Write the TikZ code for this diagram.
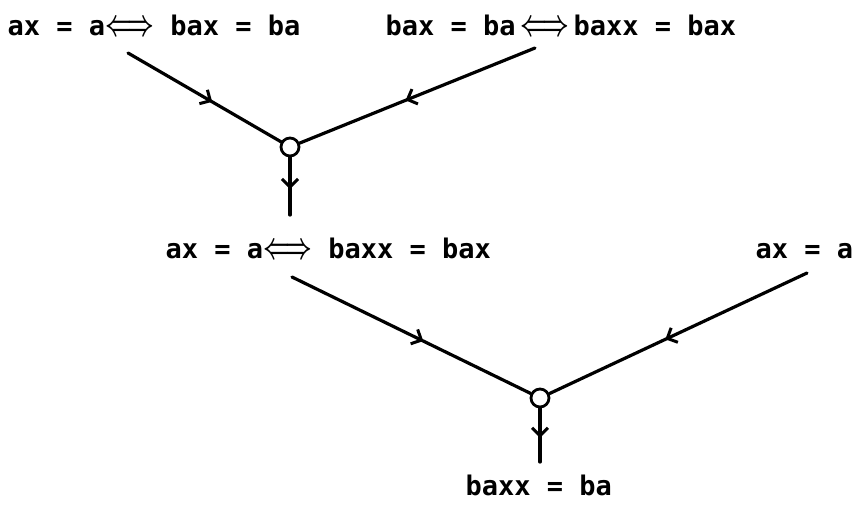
\documentclass[tikz,border=0pt]{standalone}
\usepackage{fix-cm}
\usepackage{graphicx}
\usepackage{fontspec}
\setmainfont{DejaVu Sans Mono}
\usetikzlibrary{arrows.meta,decorations.markings}

\newcommand{\eqv}{\scalebox{0.86}[1.35]{\boldmath$\Longleftrightarrow$}}

\begin{document}
\begin{tikzpicture}[x=1pt,y=-1pt,
  eqn/.style={anchor=base west,inner sep=0pt,font=\fontsize{27}{32}\selectfont\bfseries},
  joint/.style={circle,draw,line width=2.8pt,fill=white,minimum size=18pt,inner sep=0pt},
  flow/.style={line width=3.2pt,line cap=round,postaction={decorate},
    decoration={markings,mark=at position 0.55 with
      {\arrow{Straight Barb[length=8pt,width=16pt,line width=3pt]}}}}]
  \useasboundingbox (0,0) rectangle (856,504);
  % premises and conclusions
  \node[eqn] (lhs) at (7.5,35) {ax = a\eqv\ bax = ba};
  \node[eqn] (rhs) at (385.5,35) {bax = ba\,\eqv\,baxx = bax};
  \node[eqn] (mid) at (165.5,258) {ax = a\eqv\ baxx = bax};
  \node[eqn] (ax) at (755.5,258) {ax = a};
  \node[eqn] (res) at (465.5,495) {baxx = ba};
  % the two resolution points
  \node[joint] (j1) at (290,147) {};
  \node[joint] (j2) at (540,398) {};
  % free ends of the connectors
  \coordinate (s1) at (128,53);
  \coordinate (s2) at (535,48);
  \coordinate (s3) at (292,277);
  \coordinate (s4) at (807,273);
  \coordinate (e1) at (290,215);
  \coordinate (e2) at (540,462);
  \draw[flow] (s1) -- (j1);
  \draw[flow] (s2) -- (j1);
  \draw[flow] (j1) -- (e1);
  \draw[flow] (s3) -- (j2);
  \draw[flow] (s4) -- (j2);
  \draw[flow] (j2) -- (e2);
\end{tikzpicture}
\end{document}
